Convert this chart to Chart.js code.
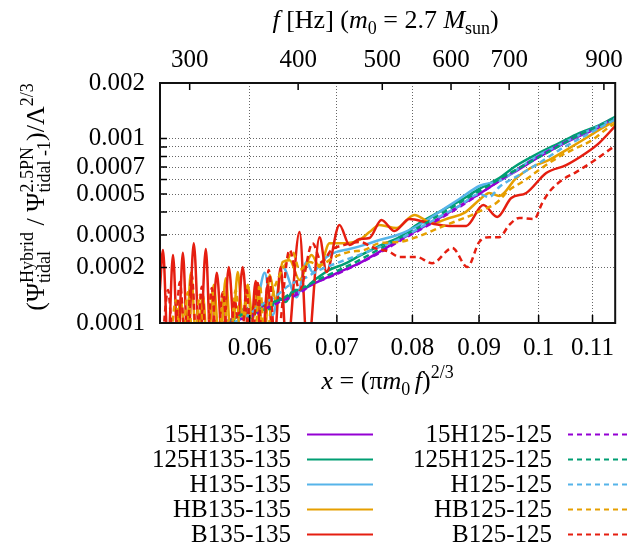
<!DOCTYPE html>
<html>
<head>
<meta charset="utf-8">
<script src="https://cdn.jsdelivr.net/npm/chart.js@4.4.1/dist/chart.umd.min.js"></script>
<style>
html,body{margin:0;padding:0;background:#fff;}
#wrap{width:631px;height:546px;}
</style>
</head>
<body>
<div id="wrap"><canvas id="c" width="631" height="546"></canvas></div>
<script>
// ---------- axis ranges and ticks ----------
const xMin = 0.0512, xMax = 0.1145;
const yMin = 1e-4, yMax = 2e-3;
const xTicks = [0.06, 0.07, 0.08, 0.09, 0.1, 0.11];
const xTickLabels = ['0.06', '0.07', '0.08', '0.09', '0.1', '0.11'];
const fTicks = [300, 400, 500, 600, 700, 800, 900];
const fTickLabels = ['300', '400', '500', '600', '700', '', '900'];
const yTicks = [0.0001, 0.0002, 0.0003, 0.0004, 0.0005, 0.0006, 0.0007, 0.0008, 0.0009, 0.001, 0.002];
const yTickLabels = ['0.0001', '0.0002', '0.0003', '', '0.0005', '', '0.0007', '', '', '0.001', '0.002'];
const m0Sun = 2.7;

// ---------- series ----------
const names = ['15H135-135', '125H135-135', 'H135-135', 'HB135-135', 'B135-135',
               '15H125-125', '125H125-125', 'H125-125', 'HB125-125', 'B125-125'];

const xs1 = [0.05641,0.05792,0.06,0.06161,0.06326,0.06553,0.06789,0.07032,0.07285,0.07547,0.07818,0.08099,0.0839,0.08692,0.09004,0.09328,0.09663,0.1001,0.1037,0.10742,0.11128,0.11468];
const ys1 = [0.96e-4,1.04e-4,1.15e-4,1.24e-4,1.33e-4,1.49e-4,1.69e-4,1.89e-4,2.11e-4,2.43e-4,2.82e-4,3.23e-4,3.71e-4,4.31e-4,5.00e-4,5.89e-4,6.83e-4,7.94e-4,9.11e-4,10.3e-4,11.5e-4,12.9e-4];

const xs2 = [0.05741,0.05874,0.05958,0.06043,0.06118,0.06216,0.06304,0.06393,0.06485,0.06576,0.06729,0.06909,0.07094,0.07285,0.07547,0.07818,0.08099,0.0839,0.08692,0.09004,0.09328,0.09578,0.1001,0.1037,0.10742,0.11128,0.11468];
const ys2 = [0.975e-4,1.09e-4,1.21e-4,1.12e-4,1.28e-4,1.19e-4,1.38e-4,1.30e-4,1.51e-4,1.51e-4,1.71e-4,1.94e-4,2.09e-4,2.31e-4,2.62e-4,2.92e-4,3.48e-4,4.00e-4,4.58e-4,5.33e-4,6.11e-4,7.01e-4,8.35e-4,9.45e-4,10.7e-4,11.8e-4,13.2e-4];

const xs3 = [0.05895,0.05958,0.06021,0.06085,0.06161,0.06249,0.0636,0.06519,0.06635,0.06705,0.06873,0.06995,0.07157,0.0735,0.07547,0.07749,0.07958,0.08171,0.0839,0.08692,0.09004,0.09328,0.09494,0.09663,0.1001,0.1037,0.10742,0.11128,0.11468];
const ys3 = [1.04e-4,1.21e-4,1.12e-4,1.33e-4,1.87e-4,1.10e-4,2.01e-4,1.38e-4,2.14e-4,1.89e-4,2.28e-4,2.43e-4,2.52e-4,2.65e-4,2.82e-4,2.96e-4,3.19e-4,3.53e-4,4.00e-4,4.70e-4,5.53e-4,5.89e-4,6.34e-4,6.92e-4,8.14e-4,9.22e-4,10.45e-4,11.7e-4,12.9e-4];

const xs4 = [0.05257,0.05312,0.0536,0.05407,0.05465,0.05523,0.05571,0.05631,0.05691,0.05751,0.05812,0.05874,0.05926,0.05979,0.06032,0.06085,0.0615,0.06216,0.06282,0.0636,0.06439,0.06553,0.06694,0.06789,0.06909,0.07119,0.07285,0.07415,0.07547,0.07776,0.08028,0.08287,0.0854,0.08769,0.09004,0.09164,0.09328,0.09612,0.09887,0.10188,0.10498,0.10876,0.11128,0.11468];
const ys4 = [0.7e-4,1.33e-4,0.7e-4,1.87e-4,0.7e-4,1.42e-4,0.7e-4,1.61e-4,0.7e-4,1.75e-4,0.7e-4,1.89e-4,1.07e-4,1.61e-4,1.04e-4,1.65e-4,0.7e-4,1.82e-4,1.33e-4,2.14e-4,2.19e-4,1.71e-4,2.34e-4,2.01e-4,2.71e-4,2.71e-4,2.82e-4,3.11e-4,3.40e-4,3.27e-4,3.85e-4,3.48e-4,3.71e-4,3.95e-4,4.64e-4,5.07e-4,4.88e-4,6.11e-4,7.01e-4,7.65e-4,8.66e-4,10.06e-4,11.12e-4,12.59e-4];

const xs5 = [0.05119,0.05147,0.05193,0.05239,0.05285,0.05331,0.05378,0.05435,0.05494,0.05552,0.05601,0.05661,0.05721,0.05782,0.05853,0.05926,0.06,0.06064,0.06129,0.06194,0.0626,0.06337,0.06405,0.06553,0.06646,0.06789,0.06873,0.07032,0.07157,0.07285,0.07415,0.07574,0.07749,0.07958,0.08243,0.0854,0.088,0.09068,0.09295,0.09528,0.09784,0.10135,0.10499,0.10875,0.11128,0.11468];
const ys5 = [1.51e-4,2.49e-4,0.7e-4,2.34e-4,0.7e-4,2.40e-4,0.7e-4,2.71e-4,0.7e-4,2.52e-4,0.7e-4,1.87e-4,0.7e-4,2.01e-4,0.7e-4,2.01e-4,0.7e-4,1.69e-4,0.7e-4,1.61e-4,0.7e-4,2.01e-4,0.7e-4,3.11e-4,0.7e-4,2.92e-4,1.89e-4,3.40e-4,2.65e-4,2.85e-4,2.89e-4,3.62e-4,3.15e-4,3.66e-4,3.48e-4,3.36e-4,3.36e-4,4.36e-4,3.76e-4,4.76e-4,5.07e-4,6.50e-4,7.18e-4,8.35e-4,9.45e-4,11.83e-4];

const xs6 = [0.05691,0.05843,0.06,0.06161,0.06326,0.06553,0.06705,0.06849,0.07032,0.07285,0.07547,0.07818,0.08099,0.0839,0.08692,0.09004,0.09328,0.09663,0.1001,0.1037,0.10742,0.11128,0.11468];
const ys6 = [0.94e-4,1.03e-4,1.08e-4,1.19e-4,1.30e-4,1.45e-4,1.63e-4,1.73e-4,1.87e-4,2.11e-4,2.40e-4,2.78e-4,3.19e-4,3.66e-4,4.25e-4,5.00e-4,5.89e-4,6.92e-4,8.04e-4,9.22e-4,10.45e-4,11.69e-4,13.07e-4];

const xs7 = [0.05792,0.05947,0.06021,0.06107,0.06194,0.06271,0.0636,0.06439,0.06611,0.06789,0.07032,0.07285,0.07547,0.07818,0.08099,0.0839,0.08692,0.09004,0.09328,0.09663,0.1001,0.1037,0.10742,0.11128,0.11468];
const ys7 = [0.99e-4,1.12e-4,1.07e-4,1.21e-4,1.15e-4,1.30e-4,1.35e-4,1.44e-4,1.57e-4,1.73e-4,1.94e-4,2.19e-4,2.52e-4,2.89e-4,3.31e-4,3.85e-4,4.47e-4,5.19e-4,6.03e-4,6.92e-4,7.94e-4,9.11e-4,10.45e-4,11.69e-4,13.07e-4];

const xs8 = [0.05843,0.06,0.06118,0.06271,0.06439,0.06611,0.06789,0.07032,0.07285,0.07547,0.07818,0.08099,0.0839,0.08692,0.09004,0.09164,0.09328,0.09663,0.1001,0.1037,0.10742,0.11128,0.11468];
const ys8 = [1.01e-4,1.12e-4,1.25e-4,1.38e-4,1.61e-4,1.75e-4,1.94e-4,2.14e-4,2.34e-4,2.58e-4,2.85e-4,3.27e-4,3.76e-4,4.31e-4,5.00e-4,4.82e-4,5.46e-4,6.34e-4,7.37e-4,8.66e-4,9.94e-4,11.40e-4,12.75e-4];

const xs9 = [0.05211,0.05266,0.05322,0.05378,0.05435,0.05494,0.05552,0.05611,0.05671,0.05731,0.05792,0.05853,0.05916,0.05979,0.06043,0.06107,0.06172,0.06238,0.06326,0.06405,0.06473,0.06553,0.0667,0.06789,0.0697,0.07157,0.0735,0.07547,0.07818,0.08099,0.08345,0.08646,0.08847,0.09052,0.09279,0.09494,0.09714,0.09957,0.10188,0.10425,0.10686,0.10992,0.11326,0.11468];
const ys9 = [0.7e-4,1.33e-4,0.7e-4,1.47e-4,0.7e-4,1.42e-4,0.7e-4,1.51e-4,0.7e-4,1.47e-4,0.7e-4,1.51e-4,0.7e-4,1.51e-4,0.7e-4,1.61e-4,0.7e-4,1.33e-4,1.82e-4,2.14e-4,2.43e-4,1.94e-4,2.14e-4,2.06e-4,2.28e-4,2.43e-4,2.49e-4,2.71e-4,2.75e-4,2.96e-4,3.23e-4,3.57e-4,3.80e-4,4.10e-4,4.47e-4,5.26e-4,5.81e-4,6.58e-4,7.37e-4,8.14e-4,8.88e-4,9.81e-4,11.54e-4,12.13e-4];

const xs10 = [0.05137,0.05193,0.05248,0.05303,0.0536,0.05416,0.05465,0.05513,0.05562,0.05611,0.05661,0.05721,0.05782,0.05843,0.05905,0.05968,0.06021,0.06085,0.06139,0.06205,0.06282,0.06439,0.06553,0.06705,0.06813,0.06934,0.07094,0.07285,0.07481,0.07681,0.07818,0.08056,0.08287,0.08585,0.08816,0.09004,0.09164,0.09328,0.09494,0.09663,0.09922,0.10063,0.10188,0.10425,0.10686,0.10992,0.11326,0.11468];
const ys10 = [0.7e-4,1.51e-4,0.7e-4,1.67e-4,0.7e-4,1.82e-4,0.7e-4,1.57e-4,0.7e-4,1.55e-4,0.7e-4,1.47e-4,0.7e-4,1.33e-4,0.7e-4,1.51e-4,0.7e-4,1.65e-4,0.7e-4,1.94e-4,0.7e-4,2.49e-4,1.51e-4,2.71e-4,2.14e-4,2.49e-4,2.65e-4,2.75e-4,2.55e-4,2.43e-4,2.28e-4,2.28e-4,2.11e-4,2.55e-4,2.01e-4,2.75e-4,2.92e-4,2.92e-4,3.40e-4,3.71e-4,3.66e-4,4.47e-4,5.13e-4,5.96e-4,6.58e-4,7.46e-4,8.66e-4,9.22e-4];

const allX = [xs1, xs2, xs3, xs4, xs5, xs6, xs7, xs8, xs9, xs10];
const allY = [ys1, ys2, ys3, ys4, ys5, ys6, ys7, ys8, ys9, ys10];
const colors = ['#9400d3', '#009e73', '#56b4e9', '#e69f00', '#e51e10',
                '#9400d3', '#009e73', '#56b4e9', '#e69f00', '#e51e10'];
const dashed = [false, false, false, false, false, true, true, true, true, true];

// ---------- top frequency axis range from x = (pi m0 f)^(2/3) ----------
const piM0 = Math.PI * m0Sun * 4.925491e-6;
const fMin = Math.pow(xMin, 1.5) / piM0;
const fMax = Math.pow(xMax, 1.5) / piM0;

const FAM = '"Liberation Serif","Times New Roman",serif';
const FS = 25;
Chart.defaults.font.family = FAM;
Chart.defaults.font.size = FS;
Chart.defaults.color = '#000';

const datasets = names.map((n, i) => ({
  label: n,
  data: allX[i].map((x, k) => ({x: x, y: allY[i][k]})),
  borderColor: colors[i],
  backgroundColor: colors[i],
  borderWidth: 2.5,
  borderDash: dashed[i] ? [6, 4] : [],
  pointRadius: 0,
  fill: false,
  cubicInterpolationMode: 'monotone',
  clip: 0,
  order: 9 - i,
  xAxisID: 'x',
  yAxisID: 'y'
}));

function fnt(size, italic) { return (italic ? 'italic ' : '') + size + 'px ' + FAM; }
const SCR = 18;
function segW(ctx, s) {
  if (s.stack) { ctx.font = fnt(SCR); return Math.max(ctx.measureText(s.stack[0]).width, ctx.measureText(s.stack[1]).width); }
  ctx.font = fnt(s.s ? SCR : FS + 1, s.i); return ctx.measureText(s.t).width;
}
function drawRich(ctx, segs, cx, baseY) {
  const ws = segs.map(s => segW(ctx, s));
  const total = ws.reduce((a, b) => a + b, 0);
  let x = cx - total / 2;
  ctx.textAlign = 'left'; ctx.textBaseline = 'alphabetic'; ctx.fillStyle = '#000';
  segs.forEach((s, k) => {
    if (s.stack) {
      ctx.font = fnt(SCR);
      ctx.fillText(s.stack[0], x, baseY - 11);
      ctx.fillText(s.stack[1], x, baseY + 6);
    } else {
      ctx.font = fnt(s.s ? SCR : FS + 1, s.i);
      const dy = s.s === 'sup' ? -11 : (s.s === 'sub' ? 6 : 0);
      ctx.fillText(s.t, x, baseY + dy);
    }
    x += ws[k];
  });
}

const topTitle = [{t:'f', i:1}, {t:' [Hz] ('}, {t:'m', i:1}, {t:'0', s:'sub'}, {t:' = 2.7 '}, {t:'M', i:1}, {t:'sun', s:'sub'}, {t:')'}];
const xTitle = [{t:'x', i:1}, {t:' = ('}, {t:'\u03c0'}, {t:'m', i:1}, {t:'0 ', s:'sub'}, {t:'f', i:1}, {t:')'}, {t:'2/3', s:'sup'}];
const yTitle = [{t:'(\u03a8'}, {stack:['Hybrid', 'tidal']}, {t:' / \u03a8'}, {stack:['2.5PN', 'tidal -1']}, {t:')/\u039b'}, {t:'2/3', s:'sup'}];

const decor = {
  id: 'decor',
  afterDatasetsDraw(chart) {
    const ctx = chart.ctx, a = chart.chartArea, sc = chart.scales;
    ctx.save();
    ctx.strokeStyle = '#000';
    ctx.lineWidth = 1.5;
    ctx.setLineDash([]);
    ctx.beginPath();
    yTicks.forEach(v => { const p = sc.y.getPixelForValue(v); ctx.moveTo(a.left, p); ctx.lineTo(a.left + 7, p); });
    xTicks.forEach(v => { const p = sc.x.getPixelForValue(v); ctx.moveTo(p, a.bottom); ctx.lineTo(p, a.bottom - 8); });
    fTicks.forEach(v => { const p = sc.x2.getPixelForValue(v); ctx.moveTo(p, a.top); ctx.lineTo(p, a.top + 7); });
    ctx.stroke();
    ctx.lineWidth = 2;
    ctx.strokeStyle = '#111';
    ctx.strokeRect(a.left, a.top, a.right - a.left, a.bottom - a.top);
    ctx.restore();
  },
  afterDraw(chart) {
    const ctx = chart.ctx, a = chart.chartArea;
    ctx.save();
    const cx = (a.left + a.right) / 2;
    drawRich(ctx, topTitle, cx - 2, 28);
    drawRich(ctx, xTitle, cx, 389);
    ctx.save();
    ctx.translate(36, (a.top + a.bottom) / 2 - 6);
    ctx.rotate(-Math.PI / 2);
    drawRich(ctx, yTitle, 0, 8);
    ctx.restore();
    // legend
    const rows = [434, 459, 484, 509, 534];
    const cols = [{tx: 291, l0: 307, l1: 373}, {tx: 552, l0: 568, l1: 631}];
    ctx.font = fnt(FS);
    ctx.textAlign = 'right';
    ctx.textBaseline = 'alphabetic';
    for (let c = 0; c < 2; c++) {
      for (let r = 0; r < 5; r++) {
        const i = c * 5 + r;
        const y = rows[r];
        ctx.fillStyle = '#000';
        ctx.fillText(names[i], cols[c].tx, y + 8);
        ctx.beginPath();
        ctx.strokeStyle = colors[i];
        ctx.lineWidth = 2;
        ctx.setLineDash(dashed[i] ? [5, 4] : []);
        ctx.moveTo(cols[c].l0, y + 0.5);
        ctx.lineTo(cols[c].l1, y + 0.5);
        ctx.stroke();
      }
    }
    ctx.restore();
  }
};

new Chart(document.getElementById('c'), {
  type: 'line',
  data: { datasets: datasets },
  options: {
    responsive: false,
    animation: false,
    devicePixelRatio: 1,
    layout: { padding: { left: 0, right: 14, top: 0, bottom: 0 } },
    plugins: { legend: { display: false }, tooltip: { enabled: false }, title: { display: false } },
    scales: {
      x: {
        type: 'logarithmic', position: 'bottom', min: xMin, max: xMax,
        afterBuildTicks: s => { s.ticks = xTicks.map(v => ({ value: v })); },
        afterFit: s => { s.height = 223; },
        ticks: { autoSkip: false, maxRotation: 0, padding: 10, font: { size: FS, family: FAM }, color: '#000',
                 callback: (v, i) => xTickLabels[i] },
        grid: { display: true, drawTicks: false, color: 'rgba(0,0,0,0.6)', lineWidth: 1 },
        border: { display: false, dash: [1, 2] }
      },
      x2: {
        type: 'logarithmic', axis: 'x', position: 'top', min: fMin, max: fMax,
        afterBuildTicks: s => { s.ticks = fTicks.map(v => ({ value: v })); },
        afterFit: s => { s.height = 83; },
        ticks: { autoSkip: false, maxRotation: 0, padding: 8, font: { size: FS, family: FAM }, color: '#000',
                 callback: (v, i) => fTickLabels[i] },
        grid: { display: false, drawTicks: false },
        border: { display: false }
      },
      y: {
        type: 'logarithmic', position: 'left', min: yMin, max: yMax,
        afterBuildTicks: s => { s.ticks = yTicks.map(v => ({ value: v })); },
        afterFit: s => { s.width = 160; },
        ticks: { autoSkip: false, padding: 15, font: { size: FS, family: FAM }, color: '#000',
                 callback: (v, i) => yTickLabels[i] },
        grid: { display: true, drawTicks: false, color: 'rgba(0,0,0,0.6)', lineWidth: 1 },
        border: { display: false, dash: [1, 2] }
      }
    }
  },
  plugins: [decor]
});
</script>
</body>
</html>
